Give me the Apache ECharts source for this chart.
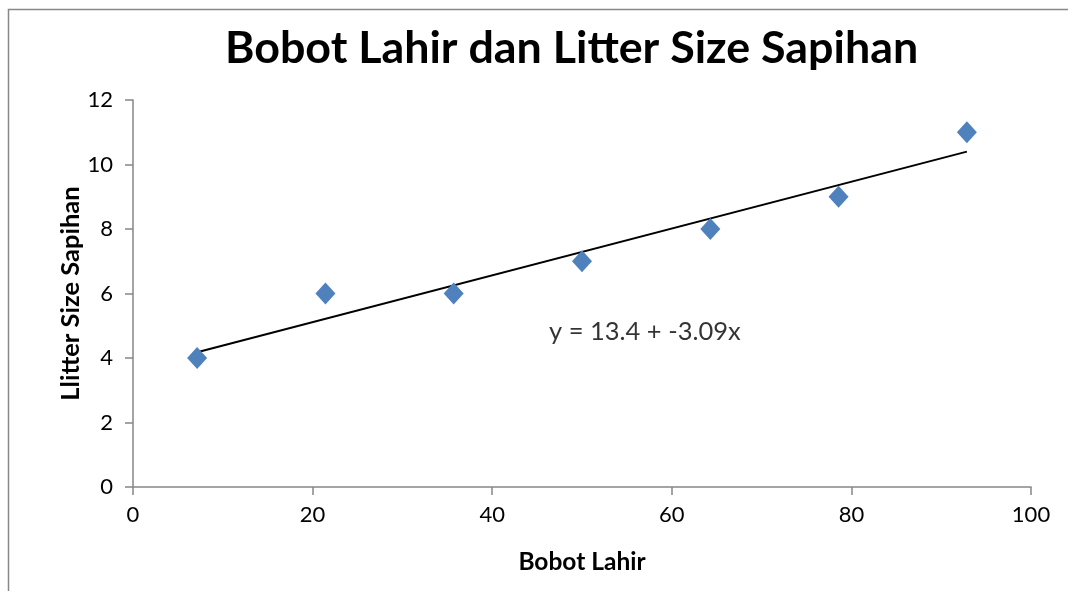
<!DOCTYPE html>
<html lang="id">
<head>
    <meta charset="UTF-8">
    <title>Bobot Lahir dan Litter Size Sapihan</title>
    <script src="https://cdn.jsdelivr.net/npm/echarts@6/dist/echarts.min.js"></script>
</head>
<body style="padding: 0; margin: 0; background: #fff">
    <div id="main" style="width: 1068px; height: 591px;"></div>
<script>
    // data
    var bobotLahir = [7.14, 21.43, 35.71, 50, 64.29, 78.57, 92.86];
    var litterSize = [4, 6, 6, 7, 8, 9, 11];
    // garis tren: dua ujung
    var trendX = [7.14, 92.86];
    var trendY = [4.18, 10.4];
    var eqText = 'y = 13.4 + -3.09x';
    var eqPos = [57, 4.8];

    var points = bobotLahir.map(function (x, i) { return [x, litterSize[i]]; });
    var trend = trendX.map(function (x, i) { return [x, trendY[i]]; });

    var font = 'Lato, "Open Sans", sans-serif';
    var axisColor = '#868686';

    var myChart = echarts.init(document.getElementById('main'));
    var option = {
        animation: false,
        backgroundColor: '#fff',
        title: {
            text: 'Bobot Lahir dan Litter Size Sapihan',
            left: 220,
            top: 21,
            textStyle: { fontFamily: font, fontWeight: 'bold', fontSize: 44.8, color: '#000' }
        },
        grid: { left: 133, right: 37, top: 100, bottom: 104 },
        xAxis: {
            type: 'value',
            min: 0, max: 100, interval: 20,
            name: 'Bobot Lahir',
            nameLocation: 'middle',
            nameGap: 63,
            nameTextStyle: { fontFamily: font, fontWeight: 'bold', fontSize: 24.5, color: '#000' },
            axisLine: { show: true, lineStyle: { color: axisColor, width: 1.5 } },
            axisTick: { show: true, length: 8, lineStyle: { color: axisColor, width: 1.5 } },
            axisLabel: { fontFamily: font, fontSize: 22, color: '#000', margin: 17 },
            splitLine: { show: false }
        },
        yAxis: {
            type: 'value',
            min: 0, max: 12, interval: 2,
            name: 'Llitter Size Sapihan',
            nameLocation: 'middle',
            nameGap: 49,
            nameMoveOverlap: false,
            nameTextStyle: { fontFamily: font, fontWeight: 'bold', fontSize: 25.5, color: '#000' },
            axisLine: { show: true, lineStyle: { color: axisColor, width: 1.5 } },
            axisTick: { show: true, length: 8, lineStyle: { color: axisColor, width: 1.5 } },
            axisLabel: { fontFamily: font, fontSize: 22, color: '#000', margin: 20 },
            splitLine: { show: false }
        },
        graphic: [{
            type: 'rect',
            shape: { x: 8.5, y: 9.5, width: 1100, height: 700 },
            style: { fill: 'none', stroke: '#888', lineWidth: 1.5 },
            silent: true
        }],
        series: [
            {
                type: 'line',
                data: trend,
                symbol: 'none',
                lineStyle: { color: '#000', width: 2 },
                z: 2
            },
            {
                type: 'scatter',
                data: points,
                symbol: 'diamond',
                symbolSize: [20, 22],
                itemStyle: { color: '#4F81BD', opacity: 1 },
                z: 3
            },
            {
                type: 'scatter',
                data: [eqPos],
                symbolSize: 0,
                label: {
                    show: true,
                    position: 'inside',
                    formatter: eqText,
                    fontFamily: font,
                    fontSize: 25.5,
                    color: '#000'
                }
            }
        ]
    };
    myChart.setOption(option);
</script>
</body>
</html>
